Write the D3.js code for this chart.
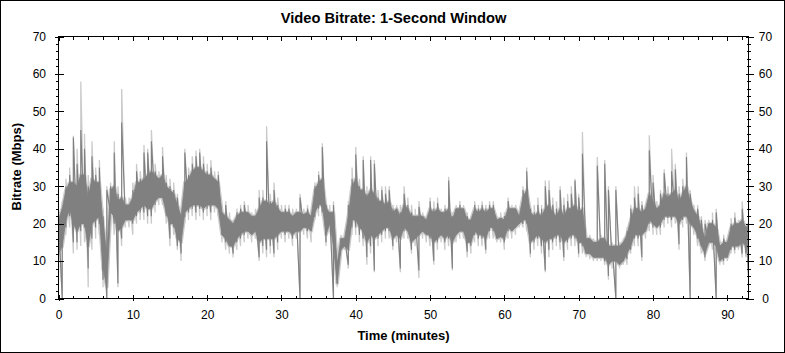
<!DOCTYPE html>
<html><head><meta charset="utf-8">
<script src="https://cdn.jsdelivr.net/npm/d3@7"></script>
<style>
body{margin:0;background:#fff}
svg{display:block}
text{font-family:"Liberation Sans",Arial,sans-serif}
</style>
</head><body>
<svg id="c" width="785" height="353"></svg>
<script>
// sample spacing (minutes)
const step = 0.5;
// dense core of the 1-second bitrate trace per half minute, Mbps
const coreLo = [
12,14,21,24,20,18,20,20,14,20,
21,22,8,3,23,22,18,19,21,21,
21,23,24,25,24,24,26,27,27,23,
20,20,16,15,23,24,25,25,25,24,
25,25,25,24,17,16,14,14,16,17,
18,18,17,18,15,16,16,16,16,17,
18,18,18,17,18,18,19,19,18,23,
25,25,17,20,14,4,13,14,13,21,
21,19,18,15,17,16,17,18,19,19,
16,17,16,19,18,15,16,17,18,17,
17,15,16,17,16,17,15,17,18,18,
15,15,18,17,17,16,19,19,16,16.5,
16,19,18,19,20,21,21,15,16,17,
16,15,16,16,17,17,15,16,17,17,
15,15,12,12,11,11,11,11,9,10,
10,9,10,12,14,17,17,17,18,21,
20,19,20,22,22,22,22,20,22,22,
20,19,17,14,12,15,15,14,10,11,
11,14,14,14,15,14,12];
const coreHi = [
21,24,29,31,31,30,33,33,27,32,
31,31,20,12,29,30,26,27,25,25,
27,31,31,32,33,34,33,32,33,30,
29,28,25,22,31,32,34,35,35,34,
33,33,32,31,23,22,21,20,22,23,
23,23,22,22,24,26,26,25,26,24,
23,23,23,22,23,23,22.5,23,22,29,
31,32,24,23,23,9,16,16,22,30,
32,29,29,27,29,28,26,26,25,26,
23,24,22,25,24,22,22,22,22,21,
24,23,24,23,23,24,21,24,24,24,
21,21,24,23,24,23,24,24,21,21.5,
21,24,24,24,22,27,29,23,22,23,
22,24,25,23,22,24,22,24,24,25,
23,24,16,16,15,15,16,16,14,14,
14,14,15,17,21,24,24,23,24,28,
26,24,25,28,27,28,29,26,28,30,
26,23.5,22,19,16,20,20,19,14,15,
15,19,20,20,21,19,20];
// dark extremes (thin spikes and dips)
const darkLo = [
7,0,19,22,15,15,18,19,8,16,
19,20,5,0,23,20,4,16,21,21,
20,22,23,23,22,22,25,27,27,22,
16,19,14,12,22,23,24,23,24,23,
24,23,25,24,17,15,14,12,15,16,
17,18,17,18,11,14,13,14,12,15,
18,17,18,16,18,0,19,18,18,22,
24,23,15,20,0,4,13,14,9,19,
19,17,16,11,14,7.5,16,17,18,18,
14,17,8,18,18,13,16,7.5,18,17,
16,10,15,17,15,16,8,17,18,18,
12.5,14,17,16,16,13,18,18,16,16.5,
15,18,18,19,20,20,20,12,15,16,
14,7.5,13,15,16,15,11,15,16,16,
12,14,12,12,11,11,11,10,6,10,
0,9,10,10.5,13,16,16,11,18,20,
19,19,19,21,21.5,21,22,14.5,21,22,
0,19,16,14,11,15,15,0,10,10,
11,13,13,14,12,12,0.5];
const darkHi = [
21,24,30,33,43,36,45,40,30,38,
33,35,22,29,30,39,28,47,25,25,
29,34,32,39,39,42,34,32,38,31,
30,29,27,22,39,33,36,38,39,36,
34,35,32,33,23,25,21,20,23,24,
25,23,22,22,27,27,42,26,29,25,
23,24,24,22,23,27,22.5,24,22,30,
33,40.5,25,23,25,9,16,16,25,32,
38.5,30,37,28,37,36,27,29,28,29,
24,24,23,28,25,23,22,24.5,22,21,
26,24,25.5,23,24,31.5,22,24,25,24,
22,21,25,24,25,24,25,25,21,21.5,
22,26,24,24,22,29,34,24,23,25,
24,30,29,25,24,29,25,26,28,31.5,
27,38.7,16,16,15,35.5,16,36,29,14,
29,14,15,18,24,27,28,25,24,39.6,
31,24,28,33.5,28,34,34.5,28,30,37.8,
28,23.5,24,21,20,20,21,23,14,16,
15,20,21.6,20,24,19,20];
// light envelope (peaks / troughs)
const lightHi = [
22,26,32,35,43.5,40,58,44,33,42,
35,37,24,30,31,42,30,56,27,27,
31,36,34,41,40,45,36,34,40.5,33,
32,31,28,24,40,35,38,39.5,40,38,
36,37,34,34,25,26,23,21,24,25,
26,25,23,24,29,29,46,28,31,27,
25,25,25,24,24,28,24,25,23,31,
34,41.5,26,25,26,10,17,17,26,35,
40.5,32,38,30,38,37,29,30,30,30,
25,25,25,30,27,25,24,26,23,22,
27,26,27,24,25,32.5,23,25,26,25,
23,22,26,25,26,25,26,26,22,23,
23,27,25,25,23,30,35,25,25,27,
25,31.5,31.5,27,26,30,27,28,30,32,
28,44.5,17,17,16,37.8,17,37,30,15,
30,15,16,19,25,30,30,26,25,43.6,
33,26,29,34.5,30,40,36,30,32,39,
29,25,25,22,21,21,23,24,15,17,
16,21.5,23,21,26,20,21];
const lightLo = [
5,0,17,19,12,13,14,15,3,13,
16,17,3,0,21,17,3,14,19,19,
17,20,21,21,20,20,23,25,25,20,
14,17,13,10,20,21,22,21,22,21,
22,21,23,22,15,13,12,11,13,14,
15,16,15,16,10,12,11,12,11,13,
16,15,16,14,16,0,17,16,15,21,
22,22,14,18,0,3,12,13,8,17,
17,15,14,9,12,7,14,15,16,16,
13,15,7,16,16,12,14,5.5,16,15,
14,9,13,15,13,14,7.5,15,16,16,
11,12,15,14,14,12,16,16,15,15,
13,16,16,17,19,19,18,11,13,14,
12,7,11,13,14,13,10,13,14,14,
11,12,11,10.5,10,10,10,9,5,8,
0,8,9,9,12,14,14,10,16,18,
17,17,17,19,20,19,20,13,19,20,
0,17,14,12,10,14,13,0,9,9,
10,12,12,13,11,11,0];
const xTicks = [0,10,20,30,40,50,60,70,80,90];
const xMinor = [2,4,6,8,12,14,16,18,22,24,26,28,32,34,36,38,42,44,46,48,52,54,56,58,62,64,66,68,72,74,76,78,82,84,86,88,92];
const yTicks = [0,10,20,30,40,50,60,70];
const yMinor = [2,4,6,8,12,14,16,18,22,24,26,28,32,34,36,38,42,44,46,48,52,54,56,58,62,64,66,68];
const xMax = 92.85;

const svg = d3.select('#c');
const L=58.5, R=748.5, T=36.5, B=298.5;
const x = d3.scaleLinear().domain([0,xMax]).range([L,R]);
const y = d3.scaleLinear().domain([0,70]).range([B,T]);

svg.append('rect').attr('x',0.5).attr('y',0.5).attr('width',784).attr('height',352)
  .attr('fill','#fff').attr('stroke','#000');

svg.append('clipPath').attr('id','clip').append('rect')
  .attr('x',L).attr('y',T).attr('width',R-L).attr('height',B-T);

const idx = d3.range(coreLo.length);
const LIGHT='#cbcbcb', DARK='#808080';
const plot = svg.append('g').attr('clip-path','url(#clip)');
const coreArea = d3.area().x(i=>x(i*step)).y0(i=>y(coreLo[i])).y1(i=>y(coreHi[i]));
// saw-tooth trace: each sample drawn from its low to its high, then on to the next low
const zig = (lo, hi) => d3.line()(idx.flatMap(i => [[x(i*step), y(lo[i])], [x(i*step), y(hi[i])]]));

// light extremes
plot.append('path').attr('d',zig(lightLo,lightHi)).attr('fill','none')
  .attr('stroke',LIGHT).attr('stroke-width',1.3);
// light halo round the core
plot.append('path').attr('d',coreArea(idx)).attr('fill',LIGHT)
  .attr('stroke',LIGHT).attr('stroke-width',3.5).attr('stroke-linejoin','round');
// dark extremes
plot.append('path').attr('d',zig(darkLo,darkHi)).attr('fill','none')
  .attr('stroke',DARK).attr('stroke-width',1.1);
// dark core
plot.append('path').attr('d',coreArea(idx)).attr('fill',DARK)
  .attr('stroke',DARK).attr('stroke-width',0.8);

function ax(gen, tx, ty, values, size, fmt, pad){
  const g = svg.append('g').attr('transform',`translate(${tx},${ty})`)
    .call(gen.tickValues(values).tickSize(size).tickSizeOuter(0).tickPadding(pad||3).tickFormat(fmt||(()=> '')));
  g.select('.domain').remove();
  g.selectAll('line').attr('stroke','#000').attr('shape-rendering','crispEdges');
  g.attr('font-family','"Liberation Sans",Arial,sans-serif').attr('font-size',12);
  g.selectAll('text').attr('fill','#000');
  return g;
}
// left
ax(d3.axisLeft(y), L,0, yTicks, 4, d=>d, 8.5);
ax(d3.axisLeft(y), L,0, yTicks, -5);
ax(d3.axisLeft(y), L,0, yMinor, 3);
// right
const gr = ax(d3.axisRight(y), R,0, yTicks, 5, d=>d, 2);
gr.selectAll('text').attr('x',17).attr('text-anchor','middle');
ax(d3.axisRight(y), R,0, yTicks, -3);
ax(d3.axisRight(y), R,0, yMinor, 2);
ax(d3.axisRight(y), R,0, yMinor, -2);
// bottom
ax(d3.axisBottom(x), 0,B, xTicks, 2, d=>d, 9.5);
ax(d3.axisBottom(x), 0,B, xTicks, -4);
ax(d3.axisBottom(x), 0,B, xMinor, -3);
// top
ax(d3.axisTop(x), 0,T, xTicks, -4);
ax(d3.axisTop(x), 0,T, xMinor, -3);

svg.append('rect').attr('x',L).attr('y',T).attr('width',R-L).attr('height',B-T)
  .attr('fill','none').attr('stroke','#000').attr('shape-rendering','crispEdges');

svg.append('text').attr('x',393.5).attr('y',23).attr('text-anchor','middle')
  .attr('font-size','14.7px').attr('font-weight','bold').text('Video Bitrate: 1-Second Window');
svg.append('text').attr('transform','translate(21,166.7) rotate(-90)').attr('text-anchor','middle')
  .attr('font-size','13px').attr('font-weight','bold').text('Bitrate (Mbps)');
svg.append('text').attr('x',403.5).attr('y',339.5).attr('text-anchor','middle')
  .attr('font-size','13px').attr('font-weight','bold').text('Time (minutes)');
</script>
</body></html>
